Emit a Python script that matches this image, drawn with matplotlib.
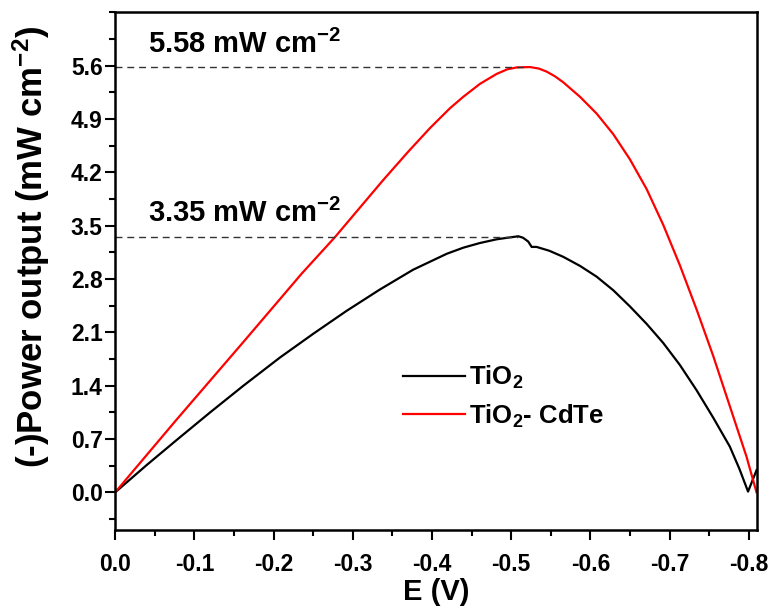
import numpy as np
import matplotlib
matplotlib.use("Agg")
import matplotlib.pyplot as plt
from matplotlib.ticker import MultipleLocator, FormatStrFormatter

plt.rcParams['font.family'] = ['Liberation Sans', 'DejaVu Sans']
plt.rcParams['font.weight'] = 'bold'
plt.rcParams['mathtext.fontset'] = 'custom'
plt.rcParams['mathtext.rm'] = 'Liberation Sans:bold'
plt.rcParams['mathtext.bf'] = 'Liberation Sans:bold'
plt.rcParams['mathtext.it'] = 'Liberation Sans:bold:italic'
plt.rcParams['mathtext.default'] = 'rm'

# TiO2 (black)
E_tio2 = [0, -0.04, -0.078, -0.12, -0.162, -0.2082, -0.25, -0.292, -0.334, -0.376,
          -0.4186, -0.4395, -0.46, -0.4816, -0.495, -0.509, -0.515, -0.5215, -0.5258,
          -0.532, -0.548, -0.5657, -0.587, -0.6078, -0.629, -0.6498, -0.671, -0.6919,
          -0.713, -0.734, -0.755, -0.776, -0.788, -0.799, -0.8097]
P_tio2 = [0, 0.36, 0.69, 1.05, 1.40, 1.77, 2.08, 2.38, 2.66, 2.92,
          3.13, 3.21, 3.27, 3.32, 3.34, 3.36, 3.34, 3.29, 3.22,
          3.22, 3.17, 3.09, 2.97, 2.83, 2.65, 2.44, 2.21, 1.96,
          1.67, 1.34, 0.98, 0.60, 0.31, 0.01, 0.29]

# TiO2-CdTe (red)
E_cdte = [0, -0.078, -0.16, -0.2355, -0.2776, -0.315, -0.3386, -0.37, -0.3975, -0.4227,
          -0.4395, -0.4606, -0.4816, -0.495, -0.5068, -0.5237, -0.535, -0.5447, -0.555,
          -0.5657, -0.5868, -0.6078, -0.6288, -0.6498, -0.6709, -0.6919, -0.7129, -0.734,
          -0.755, -0.776, -0.797, -0.8097]
P_cdte = [0, 0.96, 1.95, 2.87, 3.35, 3.81, 4.10, 4.47, 4.78, 5.04,
          5.19, 5.36, 5.49, 5.55, 5.575, 5.58, 5.56, 5.52, 5.46,
          5.38, 5.19, 4.97, 4.70, 4.37, 3.98, 3.51, 2.98, 2.40,
          1.79, 1.13, 0.47, 0.0]

labels = ['TiO$_2$', 'TiO$_2$- CdTe']
peak_vals = [3.35, 5.58]
peak_E = [-0.509, -0.52]
peak_text = ['3.35 mW cm$^{-2}$', '5.58 mW cm$^{-2}$']
peak_text_y = [3.55, 5.77]

fig = plt.figure(figsize=(7.73, 6.09), dpi=100)
ax = fig.add_axes([0.149, 0.129, 0.830, 0.851])

ax.plot(E_tio2, P_tio2, color='black', lw=1.6, label=labels[0])
ax.plot(E_cdte, P_cdte, color='red', lw=1.6, label=labels[1])

for pe, pv, txt, ty in zip(peak_E, peak_vals, peak_text, peak_text_y):
    ax.plot([0, pe], [pv, pv], color='#333333', lw=1.0, dashes=(5, 3.5))
    ax.text(-0.042, ty, txt, fontsize=21, fontweight='bold', ha='left', va='baseline')

ax.set_xlim(0, -0.81)
ax.set_ylim(-0.5, 6.3)
ax.xaxis.set_minor_locator(MultipleLocator(0.05))
ax.yaxis.set_minor_locator(MultipleLocator(0.35))
ax.set_xticks([0.0, -0.1, -0.2, -0.3, -0.4, -0.5, -0.6, -0.7, -0.8])
ax.set_xticklabels(['0.0', '-0.1', '-0.2', '-0.3', '-0.4', '-0.5', '-0.6', '-0.7', '-0.8'])
ax.set_yticks([0.0, 0.7, 1.4, 2.1, 2.8, 3.5, 4.2, 4.9, 5.6])
ax.yaxis.set_major_formatter(FormatStrFormatter('%.1f'))

ax.tick_params(which='both', direction='out', top=False, right=False, width=1.5)
ax.tick_params(which='major', length=7, labelsize=16.5)
ax.tick_params(axis='x', which='major', pad=9)
ax.tick_params(axis='y', which='major', pad=2)
ax.tick_params(which='minor', length=4)
for s in ax.spines.values():
    s.set_linewidth(1.8)

ax.set_xlabel('E (V)', fontsize=21, fontweight='bold', labelpad=2)
ax.set_ylabel('(-)Power output (mW cm$^{-2}$)', fontsize=25, fontweight='bold')
ax.yaxis.set_label_coords(-0.098, 0.547)

ax.legend(loc='upper left', bbox_to_anchor=(0.449, 0.322), frameon=False,
          prop={'size': 18.5, 'weight': 'bold'}, handlelength=2.4, handletextpad=0.15,
          labelspacing=0.45, borderpad=0, borderaxespad=0)

fig.savefig('out.png', dpi=100)
